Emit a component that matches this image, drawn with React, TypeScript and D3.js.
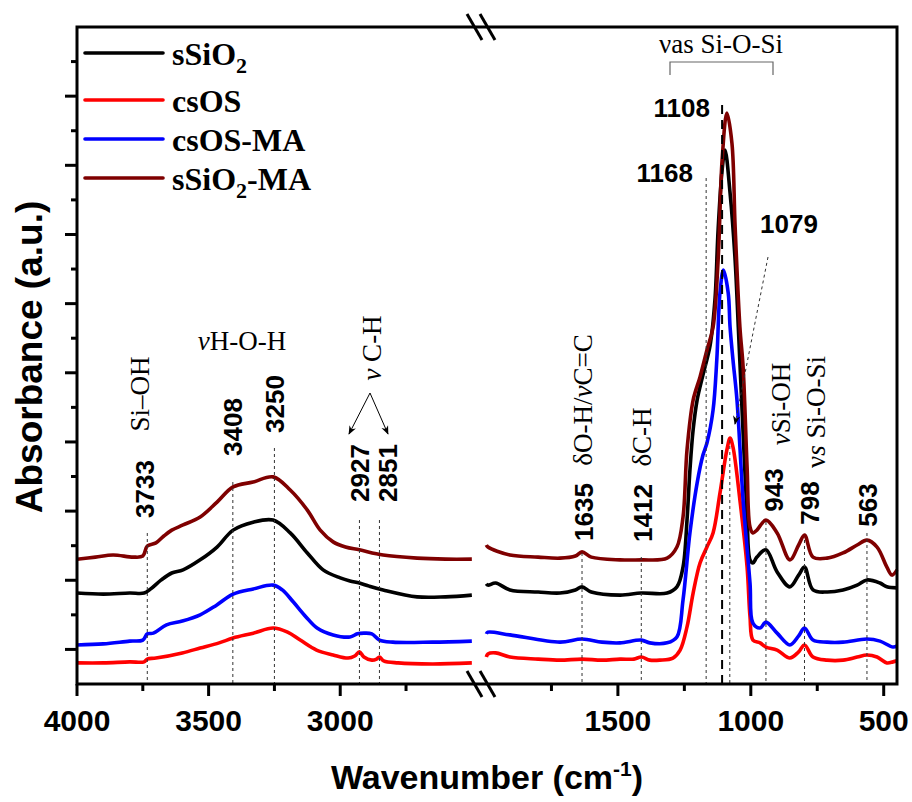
import React from "react";
import * as d3 from "d3";

// ---------- DATA (wavenumber cm-1, absorbance a.u. with offsets) ----------
const seriesNames = ["sSiO2", "csOS", "csOS-MA", "sSiO2-MA"];
const seriesColors = ["#000000", "#ff0000", "#0000ff", "#7f0000"];

const sSiO2Left: [number, number][] = [
  [4000, 2.63], [3900, 2.6], [3800, 2.63], [3745, 2.63], [3720, 2.75], [3680, 3.01], [3640, 3.21],
  [3597, 3.3], [3532, 3.59], [3468, 3.96], [3407, 4.45], [3331, 4.68], [3255, 4.74], [3190, 4.37],
  [3125, 3.79], [3065, 3.3], [3000, 3.07], [2963, 2.98], [2927, 2.92], [2890, 2.83], [2837, 2.72],
  [2708, 2.52], [2600, 2.52], [2500, 2.57],
];
const sSiO2Right: [number, number][] = [
  [1995, 2.9], [1989, 2.86], [1960, 2.92], [1906, 2.72], [1800, 2.66], [1718, 2.63], [1660, 2.72],
  [1635, 2.81], [1600, 2.66], [1492, 2.57], [1412, 2.63], [1315, 2.63], [1278, 2.81], [1255, 3.38],
  [1240, 4.74], [1229, 6.19], [1217, 7.35], [1202, 8.21], [1180, 8.94], [1153, 9.8], [1135, 11.1],
  [1123, 13.13], [1108, 14.86], [1097, 15.44], [1078, 14.2], [1059, 12.26], [1047, 10.32],
  [1029, 7.26], [1014, 4.83], [1003, 3.59], [992, 3.5], [977, 3.67], [943, 3.88], [901, 3.24],
  [853, 2.81], [820, 3.15], [798, 3.38], [766, 2.72], [713, 2.66], [653, 2.72], [600, 2.86],
  [563, 3.01], [514, 2.92], [488, 2.81], [450, 2.78],
];

const csOSLeft: [number, number][] = [
  [4000, 0.61], [3900, 0.61], [3800, 0.64], [3745, 0.64], [3733, 0.72], [3700, 0.75], [3600, 0.9],
  [3532, 1.04], [3460, 1.19], [3407, 1.33], [3330, 1.47], [3255, 1.62], [3200, 1.5], [3152, 1.27],
  [3090, 0.98], [3027, 0.84], [2970, 0.75], [2945, 0.81], [2927, 0.93], [2910, 0.78], [2880, 0.69],
  [2862, 0.72], [2851, 0.78], [2835, 0.67], [2780, 0.61], [2650, 0.58], [2500, 0.61],
];
const csOSRight: [number, number][] = [
  [1995, 0.78], [1989, 0.87], [1960, 0.9], [1906, 0.78], [1800, 0.72], [1718, 0.69], [1635, 0.72],
  [1560, 0.69], [1492, 0.72], [1440, 0.72], [1412, 0.78], [1380, 0.69], [1342, 0.69], [1293, 0.75],
  [1266, 0.98], [1240, 1.65], [1217, 2.63], [1191, 3.5], [1165, 3.96], [1142, 4.37], [1116, 5.52],
  [1090, 6.77], [1078, 7.11], [1067, 6.85], [1041, 5.32], [1014, 3.38], [1003, 1.94], [992, 1.27],
  [965, 1.19], [943, 1.07], [901, 0.98], [853, 0.75], [820, 0.93], [798, 1.13], [766, 0.78],
  [713, 0.69], [653, 0.69], [600, 0.78], [563, 0.84], [525, 0.78], [488, 0.61], [465, 0.64], [450, 0.67],
];

const csOSMALeft: [number, number][] = [
  [4000, 1.13], [3900, 1.16], [3800, 1.24], [3750, 1.27], [3733, 1.45], [3710, 1.47], [3660, 1.71],
  [3600, 1.82], [3532, 2.0], [3470, 2.28], [3407, 2.6], [3330, 2.75], [3255, 2.86], [3220, 2.72],
  [3178, 2.37], [3130, 1.94], [3088, 1.62], [3027, 1.42], [2963, 1.36], [2935, 1.45], [2910, 1.47],
  [2880, 1.45], [2851, 1.27], [2800, 1.21], [2650, 1.21], [2500, 1.24],
];
const csOSMARight: [number, number][] = [
  [1995, 1.45], [1989, 1.5], [1906, 1.42], [1718, 1.21], [1635, 1.3], [1560, 1.21], [1492, 1.19],
  [1412, 1.27], [1380, 1.19], [1315, 1.19], [1278, 1.36], [1255, 2.43], [1229, 4.37], [1202, 5.81],
  [1180, 6.62], [1165, 6.97], [1142, 7.92], [1128, 9.37], [1116, 11.31], [1103, 11.97], [1085, 11.31],
  [1078, 10.32], [1067, 9.37], [1052, 8.21], [1029, 5.32], [1003, 2.92], [992, 1.76], [965, 1.62],
  [943, 1.79], [901, 1.47], [853, 1.13], [820, 1.39], [798, 1.62], [766, 1.27], [713, 1.21],
  [653, 1.21], [563, 1.3], [514, 1.24], [465, 1.07], [450, 1.1],
];

const sSiO2MALeft: [number, number][] = [
  [4000, 3.61], [3930, 3.67], [3863, 3.73], [3787, 3.67], [3750, 3.7], [3733, 3.99], [3700, 4.08],
  [3670, 4.28], [3640, 4.45], [3597, 4.6], [3532, 4.83], [3468, 5.26], [3407, 5.7], [3331, 5.84],
  [3255, 5.99], [3190, 5.61], [3125, 5.03], [3076, 4.45], [3027, 4.11], [2980, 3.96], [2927, 3.88],
  [2837, 3.73], [2708, 3.64], [2600, 3.61], [2500, 3.61],
];
const sSiO2MARight: [number, number][] = [
  [1995, 4.02], [1989, 3.96], [1906, 3.73], [1800, 3.67], [1718, 3.64], [1660, 3.7], [1635, 3.82],
  [1600, 3.67], [1492, 3.59], [1412, 3.59], [1315, 3.64], [1278, 3.96], [1255, 4.83], [1240, 6.77],
  [1217, 8.21], [1191, 8.88], [1165, 9.66], [1142, 10.32], [1123, 12.26], [1108, 15.15], [1090, 16.51],
  [1071, 15.64], [1059, 13.22], [1041, 10.32], [1029, 9.17], [1014, 6.28], [1003, 4.54], [992, 4.37],
  [977, 4.45], [943, 4.74], [901, 4.37], [853, 3.59], [820, 4.02], [798, 4.31], [766, 3.67],
  [713, 3.64], [653, 3.79], [600, 4.02], [563, 4.16], [525, 3.96], [488, 3.38], [469, 3.15], [450, 3.3],
];

const leftSegments = [sSiO2Left, csOSLeft, csOSMALeft, sSiO2MALeft];
const rightSegments = [sSiO2Right, csOSRight, csOSMARight, sSiO2MARight];

const leftMajorTicks = [4000, 3500, 3000];
const leftMinorTicks = [3750, 3250, 2750];
const rightMajorTicks = [1500, 1000, 500];
const rightMinorTicks = [1750, 1250, 750];
const yMajorTicks = [1, 3, 5, 7, 9, 11, 13, 15, 17];
const yMinorTicks = [2, 4, 6, 8, 10, 12, 14, 16, 18];

// peak markers: wavenumber, label
const peakLabelsLeft = [3733, 3408, 3250, 2927, 2851];
const peakLabelsRight = [1635, 1412, 943, 798, 563];

// ---------- LAYOUT ----------
const W = 912, H = 802;
const L = 77, R = 897, T = 27, B = 684, BRK = 485;
const SANS = "Arial, 'Liberation Sans', Helvetica, sans-serif";
const SERIF = "'Times New Roman', 'Liberation Serif', serif";

export default function App() {
  const xL = d3.scaleLinear().domain([4000, 2450]).range([L, BRK]);
  const xR = d3.scaleLinear().domain([2000, 450]).range([BRK, R]);
  const y = d3.scaleLinear().domain([0, 19]).range([B, T]);

  const mk = (xs: d3.ScaleLinear<number, number>) =>
    d3.line<[number, number]>().x((d) => xs(d[0])).y((d) => y(d[1])).curve(d3.curveCatmullRom.alpha(0.5));
  const lineL = mk(xL);
  const lineR = mk(xR);

  const dash = { stroke: "#333", strokeWidth: 1, strokeDasharray: "3,3", fill: "none" };

  const rotText = (x: number, yy: number, content: React.ReactNode, font: string, size: number, weight: string, key: string) => (
    <text key={key} transform={`translate(${x},${yy}) rotate(-90)`} textAnchor="middle" dominantBaseline="central"
      fontFamily={font} fontSize={size} fontWeight={weight} fill="#000">{content}</text>
  );

  const leftLabelPos: Record<number, [number, number, number]> = {
    3733: [145, 489, 533], 3408: [233, 427, 482], 3250: [275, 404, 448], 2927: [360, 473, 520], 2851: [388, 473, 520],
  };
  const rightLabelPos: Record<number, [number, number, number]> = {
    1635: [584, 512, 553], 1412: [643, 513, 557], 943: [774, 490, 522], 798: [810, 503, 540], 563: [868, 505, 533],
  };

  return (
    <svg width={W} height={H} style={{ position: "absolute", left: 0, top: 0, background: "#fff" }}>
      <defs>
        <marker id="arr" viewBox="0 0 10 10" refX="9" refY="5" markerWidth="9" markerHeight="9" orient="auto-start-reverse">
          <path d="M0,1 L10,5 L0,9 L3,5 Z" fill="#000" />
        </marker>
      </defs>

      {/* curves */}
      {leftSegments.map((seg, i) => (
        <path key={"l" + i} d={lineL(seg) || ""} fill="none" stroke={seriesColors[i]} strokeWidth={3.6} strokeLinejoin="round" />
      ))}
      {rightSegments.map((seg, i) => (
        <path key={"r" + i} d={lineR(seg) || ""} fill="none" stroke={seriesColors[i]} strokeWidth={3.6} strokeLinejoin="round" />
      ))}

      {/* dashed marker lines */}
      {peakLabelsLeft.map((wn) => (
        <line key={"dl" + wn} x1={xL(wn)} x2={xL(wn)} y1={leftLabelPos[wn][2]} y2={B} {...dash} />
      ))}
      {peakLabelsRight.map((wn) => (
        <line key={"dr" + wn} x1={xR(wn)} x2={xR(wn)} y1={rightLabelPos[wn][2]} y2={B} {...dash} />
      ))}
      <line x1={xR(1168)} x2={xR(1168)} y1={178} y2={B} {...dash} />
      <line x1={xR(1079)} x2={xR(1079)} y1={440} y2={B} {...dash} />
      <line x1={xR(1108)} x2={xR(1108)} y1={105} y2={B} stroke="#000" strokeWidth={2} strokeDasharray="9,6" />
      <line x1={768} y1={257} x2={735} y2={424} {...dash} markerEnd="url(#arr)" />

      {/* peak number labels */}
      {peakLabelsLeft.map((wn) => rotText(leftLabelPos[wn][0], leftLabelPos[wn][1], String(wn), SANS, 26, "bold", "tl" + wn))}
      {peakLabelsRight.map((wn) => rotText(rightLabelPos[wn][0], rightLabelPos[wn][1], String(wn), SANS, 26, "bold", "tr" + wn))}
      <text x={710} y={117} textAnchor="end" fontFamily={SANS} fontSize={26} fontWeight="bold">1108</text>
      <text x={693} y={182} textAnchor="end" fontFamily={SANS} fontSize={26} fontWeight="bold">1168</text>
      <text x={760} y={233} textAnchor="start" fontFamily={SANS} fontSize={26} fontWeight="bold">1079</text>

      {/* band assignments */}
      {rotText(140, 394, "Si–OH", SERIF, 27, "normal", "a1")}
      {rotText(583, 400, <>δO-H/<tspan fontStyle="italic">ν</tspan>C=C</>, SERIF, 27, "normal", "a2")}
      {rotText(642, 437, "δC-H", SERIF, 27, "normal", "a3")}
      {rotText(781, 404, <><tspan fontStyle="italic">ν</tspan>Si-OH</>, SERIF, 27, "normal", "a4")}
      {rotText(816, 412, <>ν<tspan fontStyle="italic">s</tspan> Si-O-Si</>, SERIF, 27, "normal", "a5")}
      {rotText(372, 348, <><tspan fontStyle="italic">ν</tspan> C-H</>, SERIF, 27, "normal", "a6")}
      <text x={242} y={350} textAnchor="middle" fontFamily={SERIF} fontSize={27}>
        <tspan fontStyle="italic">ν</tspan>H-O-H
      </text>
      <text x={721} y={53} textAnchor="middle" fontFamily={SERIF} fontSize={27}>νas Si-O-Si</text>
      <path d="M670,75 V62 H773 V75" fill="none" stroke="#666" strokeWidth={1.2} />
      <line x1={370} y1={393} x2={349} y2={434} stroke="#000" strokeWidth={1} markerEnd="url(#arr)" />
      <line x1={370} y1={393} x2={388} y2={434} stroke="#000" strokeWidth={1} markerEnd="url(#arr)" />

      {/* frame */}
      <rect x={L} y={T} width={R - L} height={B - T} fill="none" stroke="#000" strokeWidth={3} />

      {/* y ticks */}
      {yMajorTicks.map((v) => (
        <line key={"ym" + v} x1={L - 12} x2={L} y1={y(v)} y2={y(v)} stroke="#000" strokeWidth={3} />
      ))}
      {yMinorTicks.map((v) => (
        <line key={"yn" + v} x1={L - 6} x2={L} y1={y(v)} y2={y(v)} stroke="#000" strokeWidth={3} />
      ))}

      {/* x ticks */}
      {leftMajorTicks.map((v) => (
        <g key={"xl" + v}>
          <line x1={xL(v)} x2={xL(v)} y1={B} y2={B + 12} stroke="#000" strokeWidth={3} />
          <text x={xL(v)} y={731} textAnchor="middle" fontFamily={SANS} fontSize={30} fontWeight="bold">{v}</text>
        </g>
      ))}
      {leftMinorTicks.map((v) => (
        <line key={"xln" + v} x1={xL(v)} x2={xL(v)} y1={B} y2={B + 7} stroke="#000" strokeWidth={3} />
      ))}
      {rightMajorTicks.map((v) => (
        <g key={"xr" + v}>
          <line x1={xR(v)} x2={xR(v)} y1={B} y2={B + 12} stroke="#000" strokeWidth={3} />
          <text x={xR(v)} y={731} textAnchor="middle" fontFamily={SANS} fontSize={30} fontWeight="bold">{v}</text>
        </g>
      ))}
      {rightMinorTicks.map((v) => (
        <line key={"xrn" + v} x1={xR(v)} x2={xR(v)} y1={B} y2={B + 7} stroke="#000" strokeWidth={3} />
      ))}

      {/* axis breaks */}
      {[0, 13].map((o) => (
        <g key={"bk" + o}>
          <line x1={467 + o} y1={14} x2={482 + o} y2={40} stroke="#000" strokeWidth={3} />
          <line x1={467 + o} y1={671} x2={482 + o} y2={697} stroke="#000" strokeWidth={3} />
        </g>
      ))}

      {/* axis titles */}
      <text transform={`translate(42,357) rotate(-90)`} textAnchor="middle" fontFamily={SANS} fontSize={37} fontWeight="bold">
        Absorbance (a.u.)
      </text>
      <text x={487} y={789} textAnchor="middle" fontFamily={SANS} fontSize={34} fontWeight="bold">
        Wavenumber (cm<tspan dy={-13} fontSize={21}>-1</tspan><tspan dy={13}>)</tspan>
      </text>

      {/* legend */}
      {seriesNames.map((name, i) => {
        const ly = [53, 100, 139, 178][i];
        const sub = name.startsWith("sSiO2");
        return (
          <g key={"lg" + i}>
            <line x1={85} x2={163} y1={ly} y2={ly} stroke={seriesColors[i]} strokeWidth={3.6} strokeLinecap="round" />
            <text x={172} y={ly + 12} fontFamily={SERIF} fontSize={32} fontWeight="bold">
              {sub ? (
                <>
                  sSiO<tspan dy={8} fontSize={22}>2</tspan>
                  <tspan dy={-8}>{name.slice(5)}</tspan>
                </>
              ) : (
                name
              )}
            </text>
          </g>
        );
      })}
    </svg>
  );
}
